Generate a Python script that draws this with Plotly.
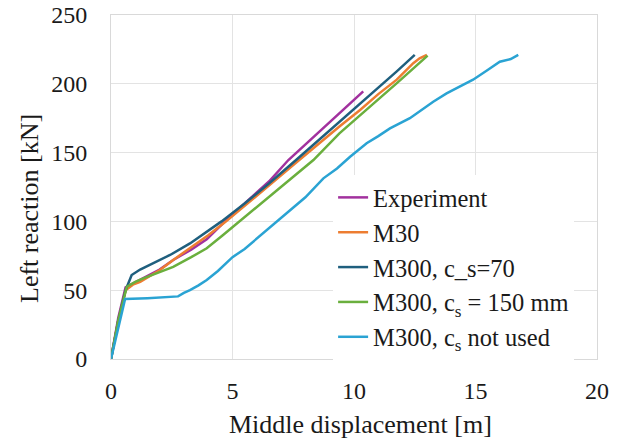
import plotly.graph_objects as go

# Data
exp_x = [0, 0.3, 0.6, 1.19, 2.0, 2.56, 3.3, 3.94, 4.69, 5.5, 6.5, 7.3, 8.5, 9.56, 10.38]
exp_y = [0, 30, 52, 57.4, 65, 72, 79.5, 87, 100, 113, 129, 144.6, 164, 181, 194.5]

m30_x = [0, 0.3, 0.6, 0.9, 1.2, 1.6, 2.0, 2.56, 3.2, 4.0, 4.7, 5.5, 6.5, 7.5, 8.5, 9.4, 10.25, 11.0, 11.76, 12.2, 12.44, 12.7, 13.0]
m30_y = [0, 28, 50, 54, 56, 60, 64.5, 72, 80, 90, 99.5, 111, 126, 141, 156, 169, 181, 192.5, 203, 210.5, 215, 218.5, 221]

m300a_x = [0, 0.3, 0.6, 0.85, 1.2, 1.53, 2.0, 2.43, 3.25, 4.0, 4.55, 5.5, 6.5, 7.64, 8.8, 9.97, 11.0, 11.76, 12.5]
m300a_y = [0, 28, 50, 61, 65, 68, 72, 75.6, 84, 93, 100, 113, 127.5, 145, 163, 181, 197, 209, 221]

m300b_x = [0, 0.3, 0.65, 1.0, 1.33, 2.02, 2.56, 3.3, 3.94, 4.6, 5.31, 6.3, 7.3, 8.33, 9.4, 10.52, 11.8, 13.03]
m300b_y = [0, 28, 52.5, 56, 58.6, 63.5, 67, 74, 80.5, 90, 100.5, 115, 130, 144.6, 164, 181, 201, 220.5]

m300c_x = [0, 0.58, 1.5, 2.0, 2.76, 3.0, 3.25, 3.6, 3.94, 4.4, 4.76, 5.0, 5.5, 6.0, 6.82, 7.4, 8.0, 8.74,
           9.3, 9.84, 10.52, 11.0, 11.48, 12.3, 12.8, 13.26, 13.81, 14.3, 14.9, 15.5, 16.0, 16.45, 16.76]
m300c_y = [0, 43.6, 44.2, 44.8, 45.5, 48, 50, 53.5, 57.4, 64, 70, 74, 80, 87.5, 100, 108, 117.5, 131.3,
           138.5, 147, 156.8, 162, 167.6, 175, 181.5, 187, 193, 197.5, 203, 210, 216, 218, 221]

x_ticks = [0, 5, 10, 15, 20]
y_ticks = [0, 50, 100, 150, 200, 250]

names = ["Experiment", "M30", "M300, c_s=70",
         "M300, c<sub>s</sub> = 150 mm", "M300, c<sub>s</sub> not used"]
colors = ["#A2319E", "#ED7D31", "#1F5F7E", "#6AAF3D", "#2AA3D3"]
xs = [exp_x, m30_x, m300a_x, m300b_x, m300c_x]
ys = [exp_y, m30_y, m300a_y, m300b_y, m300c_y]

FONT = "Liberation Serif"
TXT = "#1a1a1a"

fig = go.Figure()
for n, c, x, y in zip(names, colors, xs, ys):
    fig.add_trace(go.Scatter(x=x, y=y, mode="lines", name=n,
                             line=dict(color=c, width=2.5)))

fig.update_layout(
    template="none",
    width=619, height=443,
    margin=dict(l=111, r=22, t=15, b=84),
    paper_bgcolor="white", plot_bgcolor="white",
    font=dict(family=FONT, size=24, color=TXT),
    showlegend=True,
    legend=dict(x=0.457, y=0.535, xanchor="left", yanchor="top",
                bgcolor="white", borderwidth=0,
                font=dict(family=FONT, size=24.5, color=TXT),
                traceorder="normal", tracegroupgap=0,
                itemwidth=30),
    annotations=[
        dict(text="Middle displacement [m]", xref="paper", yref="paper",
             x=0.513, y=-0.189, xanchor="center", yanchor="middle",
             showarrow=False, font=dict(family=FONT, size=26, color=TXT)),
        dict(text="Left reaction [kN]", xref="paper", yref="paper",
             x=-0.1667, y=0.439, xanchor="center", yanchor="middle",
             textangle=-90, showarrow=False,
             font=dict(family=FONT, size=26, color=TXT)),
    ],
)
fig.update_xaxes(range=[0, 20], tickvals=x_ticks, automargin=False,
                 tickfont=dict(family=FONT, size=24, color=TXT),
                 showgrid=True, gridcolor="#e3e3e3", gridwidth=1,
                 zeroline=False, showline=True, linecolor="#d9d9d9", mirror=True,
                 ticks="outside", ticklen=10, tickcolor="rgba(0,0,0,0)")
fig.update_yaxes(range=[0, 250], tickvals=y_ticks, automargin=False,
                 tickfont=dict(family=FONT, size=24, color=TXT),
                 showgrid=True, gridcolor="#e3e3e3", gridwidth=1,
                 zeroline=False, showline=True, linecolor="#d9d9d9", mirror=True,
                 ticks="outside", ticklen=18, tickcolor="rgba(0,0,0,0)")

fig.write_html("out.html",
               config={"displayModeBar": False},
               post_script="document.body.style.margin='0';document.body.style.overflow='hidden';")
